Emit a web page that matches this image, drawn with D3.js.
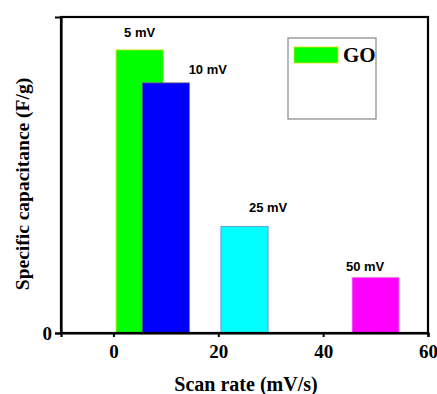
<!DOCTYPE html>
<html>
<head>
<meta charset="utf-8">
<script src="https://cdn.jsdelivr.net/npm/d3@7"></script>
<style>
  body { margin: 0; background: #fff; }
</style>
</head>
<body>
<div id="chart"></div>
<script>
// chart data
const scanRates = [5, 10, 25, 50];
const capacitance = [107.5, 95, 40.5, 21.2];
const barLabels = ["5 mV", "10 mV", "25 mV", "50 mV"];
const labelAt = [5, 18, 29.5, 48];
const barColors = ["#00ff00", "#0000ff", "#00ffff", "#ff00ff"];
const barStrokes = ["#e0e000", "#777777", "#5a8ad0", "#e0c0e0"];
const xTicks = [0, 20, 40, 60];
const yTicks = [0];
const barWidth = 9;

// svg setup
let svgWidth = 437;
let svgHeight = 394;
let margin = { top: 17, bottom: 61, left: 61, right: 9 };
let width = svgWidth - margin.left - margin.right;
let height = svgHeight - margin.top - margin.bottom;

let svg = d3.select("#chart")
    .append("svg")
    .attr("width", svgWidth)
    .attr("height", svgHeight);

let chartGroup = svg.append("g")
    .attr("transform", `translate(${margin.left},${margin.top})`);

let x = d3.scaleLinear().domain([-10, 60]).range([0, width]);
let y = d3.scaleLinear().domain([0, 120]).range([height, 0]);

// bars
chartGroup.selectAll("rect.bar")
    .data(scanRates)
    .enter()
    .append("rect")
    .attr("class", "bar")
    .attr("x", d => x(d - barWidth / 2))
    .attr("width", d => x(d + barWidth / 2) - x(d - barWidth / 2))
    .attr("y", (d, i) => y(capacitance[i]))
    .attr("height", (d, i) => y(0) - y(capacitance[i]))
    .attr("fill", (d, i) => barColors[i])
    .attr("stroke", (d, i) => barStrokes[i])
    .attr("stroke-width", 0.8);

// bar labels
const labelLift = [13, 9, 14, 6];
chartGroup.selectAll("text.blabel")
    .data(barLabels)
    .enter()
    .append("text")
    .attr("class", "blabel")
    .attr("x", (d, i) => x(labelAt[i]))
    .attr("y", (d, i) => y(capacitance[i]) - labelLift[i])
    .attr("text-anchor", "middle")
    .attr("font-family", "Liberation Sans, Arial, sans-serif")
    .attr("font-weight", "bold")
    .attr("font-size", "13px")
    .text(d => d);

// frame
chartGroup.append("rect")
    .attr("x", 0).attr("y", 0)
    .attr("width", width).attr("height", height)
    .attr("fill", "none")
    .attr("stroke", "#000")
    .attr("stroke-width", 2.2);

// axes
let bottomAxis = d3.axisBottom(x).tickValues(xTicks).tickSize(4).tickPadding(8);
let leftAxis = d3.axisLeft(y).tickValues(yTicks).tickSize(6).tickPadding(3);

let xAxis = chartGroup.append("g")
    .attr("transform", `translate(0,${height})`)
    .call(bottomAxis);
let yAxis = chartGroup.append("g")
    .call(leftAxis);

[xAxis, yAxis].forEach(ax => {
    ax.select(".domain").attr("stroke-width", 2.2);
    ax.selectAll(".tick line").attr("stroke-width", 2);
    ax.selectAll(".tick text")
        .attr("font-family", "Liberation Serif, Times New Roman, serif")
        .attr("font-weight", "bold")
        .attr("font-size", "19px")
        .attr("fill", "#000");
});
yAxis.selectAll(".tick text").attr("dy", "0.35em");

// axis titles
chartGroup.append("text")
    .attr("x", 246 - margin.left)
    .attr("y", 391 - margin.top)
    .attr("text-anchor", "middle")
    .attr("font-family", "Liberation Serif, Times New Roman, serif")
    .attr("font-weight", "bold")
    .attr("font-size", "20px")
    .text("Scan rate (mV/s)");

chartGroup.append("text")
    .attr("transform", "rotate(-90)")
    .attr("x", -(184 - margin.top))
    .attr("y", 29 - margin.left)
    .attr("text-anchor", "middle")
    .attr("font-family", "Liberation Serif, Times New Roman, serif")
    .attr("font-weight", "bold")
    .attr("font-size", "19.5px")
    .text("Specific capacitance (F/g)");

// legend
let legend = chartGroup.append("g")
    .attr("transform", "translate(227,21)");
legend.append("rect")
    .attr("width", 88).attr("height", 81)
    .attr("fill", "#fff")
    .attr("stroke", "#888")
    .attr("stroke-width", 1.2);
legend.append("rect")
    .attr("x", 6).attr("y", 9)
    .attr("width", 44).attr("height", 16)
    .attr("fill", barColors[0])
    .attr("stroke", barStrokes[0])
    .attr("stroke-width", 0.8);
legend.append("text")
    .attr("x", 55).attr("y", 24)
    .attr("font-family", "Liberation Serif, Times New Roman, serif")
    .attr("font-weight", "bold")
    .attr("font-size", "21px")
    .text("GO");
</script>
</body>
</html>
